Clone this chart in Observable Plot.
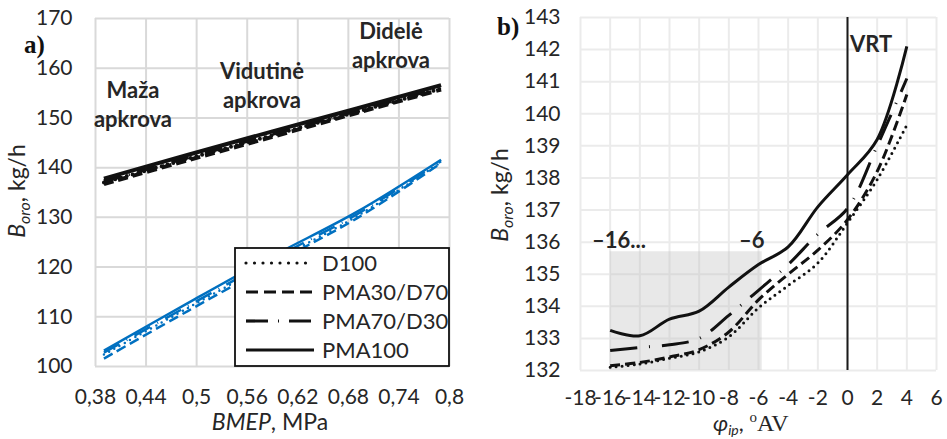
<!DOCTYPE html>
<html><head><meta charset="utf-8">
<script src="https://cdn.jsdelivr.net/npm/d3@7"></script>
<script src="https://cdn.jsdelivr.net/npm/@observablehq/plot@0.6"></script>
<style>
body{margin:0;background:#fff;}
#wrap{display:flex;width:947px;height:439px;overflow:hidden;}
</style></head><body><div id="wrap"></div>
<script>
// ---------- data ----------
const seriesNames = ["D100", "PMA30/D70", "PMA70/D30", "PMA100"];

// panel a) : BMEP, MPa
const bmep = [0.39, 0.49, 0.59, 0.69, 0.79];
const upperD100     = [137.0, 141.8, 146.5, 151.2, 155.9];
const upperPMA30D70 = [136.7, 141.5, 146.2, 151.0, 155.7];
const upperPMA70D30 = [137.3, 142.1, 146.8, 151.5, 156.2];
const upperPMA100   = [137.8, 142.6, 147.3, 151.9, 156.6];
const lowerD100     = [102.4, 111.8, 121.1, 130.2, 141.1];
const lowerPMA30D70 = [101.6, 111.2, 120.6, 129.8, 140.9];
const lowerPMA70D30 = [102.8, 112.2, 121.6, 130.6, 141.3];
const lowerPMA100   = [103.2, 112.8, 122.2, 131.1, 141.6];
const bmepTicks = [0.38, 0.44, 0.5, 0.56, 0.62, 0.68, 0.74, 0.8];
const borTicksA = [100, 110, 120, 130, 140, 150, 160, 170];
const loadLabels = [["Maža", "apkrova"], ["Vidutinė", "apkrova"], ["Didelė", "apkrova"]];

// panel b) : injection timing, °AV
const phi = [-16, -14, -12, -10, -8, -6, -4, -2, 0, 2, 4];
const phiD100     = [132.1, 132.2, 132.38, 132.58, 133.05, 133.95, 134.65, 135.35, 136.6, 137.95, 139.65];
const phiPMA30D70 = [132.15, 132.25, 132.42, 132.65, 133.2, 134.2, 135.0, 135.75, 136.7, 138.2, 140.6];
const phiPMA70D30 = [132.62, 132.72, 132.8, 133.0, 133.72, 134.5, 135.3, 136.25, 137.05, 139.0, 141.1];
const phiPMA100   = [133.25, 133.08, 133.6, 133.85, 134.6, 135.3, 135.85, 137.1, 138.1, 139.2, 142.1];
const phiTicks = [-18, -16, -14, -12, -10, -8, -6, -4, -2, 0, 2, 4, 6];
const borTicksB = [132, 133, 134, 135, 136, 137, 138, 139, 140, 141, 142, 143];
const shadeRange = {x1: -16, x2: -5.75, y1: 132, y2: 135.7};
const rangeLabels = ["\u201316...", "\u20136"];
const vrtAt = 0;

// ---------- styles ----------
const dashB = {"D100": "0 6", "PMA30/D70": "10 5", "PMA70/D30": "27 12 1 12", "PMA100": null};
const dashA = {"D100": "0 6", "PMA30/D70": "10 5", "PMA70/D30": "18 8 1 8", "PMA100": null};
const legendDash = {"D100": "0 8.5", "PMA30/D70": "12 6", "PMA70/D30": "22 10 1 10", "PMA100": null};
const blue = "#0070C0";
const font = "Lato, 'Open Sans', sans-serif";

const rows = (xs, ys, name) => xs.map((x, i) => ({x, y: ys[i], name}));
const upper = {"D100": upperD100, "PMA30/D70": upperPMA30D70, "PMA70/D30": upperPMA70D30, "PMA100": upperPMA100};
const lower = {"D100": lowerD100, "PMA30/D70": lowerPMA30D70, "PMA70/D30": lowerPMA70D30, "PMA100": lowerPMA100};
const curvesB = {"D100": phiD100, "PMA30/D70": phiPMA30D70, "PMA70/D30": phiPMA70D30, "PMA100": phiPMA100};
const fmtComma = d => String(d).replace(".", ",");

function lineMark(data, name, stroke, dash, width, curve) {
  return Plot.line(data, {x: "x", y: "y", stroke, strokeWidth: width,
    strokeDasharray: dash || undefined,
    strokeLinecap: (dash && dash.startsWith("0 ")) ? "round" : "butt",
    curve});
}

// ---------- panel a ----------
const marksA = [
  Plot.gridX(bmepTicks, {stroke: "#d9d9d9", strokeOpacity: 1, strokeWidth: 2}),
  Plot.gridY(borTicksA, {stroke: "#d9d9d9", strokeOpacity: 1, strokeWidth: 2}),
];
for (const n of seriesNames) marksA.push(lineMark(rows(bmep, lower[n], n), n, blue, dashA[n], 2.5, "catmull-rom"));
for (const n of seriesNames) marksA.push(lineMark(rows(bmep, upper[n], n), n, "#111", dashA[n], 4, "catmull-rom"));
marksA.push(
  Plot.axisX({ticks: bmepTicks, tickSize: 0, tickPadding: 23, tickFormat: fmtComma, label: null}),
  Plot.axisY({ticks: borTicksA, tickSize: 0, tickPadding: 23, label: null})
);
const plotA = Plot.plot({
  width: 470, height: 439,
  marginLeft: 95, marginRight: 21, marginTop: 18, marginBottom: 73,
  x: {domain: [0.38, 0.8]},
  y: {domain: [100, 170]},
  style: {fontFamily: font, fontSize: "21px", color: "#262626", background: "white", overflow: "visible"},
  marks: marksA
});

// ---------- panel b ----------
const marksB = [
  Plot.gridX(phiTicks, {stroke: "#ebebeb", strokeOpacity: 1, strokeWidth: 2}),
  Plot.gridY(borTicksB, {stroke: "#ebebeb", strokeOpacity: 1, strokeWidth: 2}),
  Plot.rect([shadeRange], {x1: "x1", x2: "x2", y1: "y1", y2: "y2", fill: "#bfbfbf", fillOpacity: 0.36}),
  Plot.ruleX([vrtAt], {stroke: "#1a1a1a", strokeWidth: 2}),
];
for (const n of seriesNames) marksB.push(lineMark(rows(phi, curvesB[n], n), n, "#111", dashB[n], 3, "catmull-rom"));
marksB.push(
  Plot.axisX({ticks: phiTicks, tickSize: 0, tickPadding: 20, tickFormat: d => String(d), label: null}),
  Plot.axisY({ticks: borTicksB, tickSize: 0, tickPadding: 20, label: null})
);
const plotB = Plot.plot({
  width: 477, height: 439,
  marginLeft: 110, marginRight: 11, marginTop: 17, marginBottom: 69,
  x: {domain: [-18, 6]},
  y: {domain: [132, 143]},
  style: {fontFamily: font, fontSize: "21px", color: "#262626", background: "white", overflow: "visible"},
  marks: marksB
});

document.getElementById("wrap").append(plotA, plotB);

// ---------- annotations panel a ----------
const sA = d3.select(plotA);
// legend
const lg = sA.append("g");
lg.append("rect").attr("x", 235).attr("y", 248).attr("width", 214).attr("height", 118)
  .attr("fill", "white").attr("stroke", "#111").attr("stroke-width", 1.8);
seriesNames.forEach((n, i) => {
  const y = 263 + i * 29;
  lg.append("line").attr("x1", 246).attr("x2", 314).attr("y1", y).attr("y2", y)
    .attr("stroke", "#111").attr("stroke-width", 3.2)
    .attr("stroke-dasharray", legendDash[n])
    .attr("stroke-linecap", legendDash[n] && legendDash[n].startsWith("0 ") ? "round" : "butt");
  lg.append("text").attr("x", 322).attr("y", y).attr("dy", "0.36em").attr("text-anchor", "start")
    .attr("font-size", 22).attr("fill", "#262626").text(n);
});
// load labels
const loadPos = [[133, 98], [262, 79], [391, 39]];
loadLabels.forEach((ls, i) => {
  ls.forEach((t, j) => {
    sA.append("text").attr("x", loadPos[i][0]).attr("y", loadPos[i][1] + j * 28.5)
      .attr("text-anchor", "middle").attr("font-weight", "bold").attr("font-size", 22)
      .attr("fill", "#262626").text(t);
  });
});
sA.append("text").attr("x", 24).attr("y", 53).attr("text-anchor", "start").attr("font-family", "'Liberation Serif', serif")
  .attr("font-weight", "bold").attr("font-size", 25).attr("fill", "#111").text("a)");
// axis titles
const xtA = sA.append("text").attr("x", 270).attr("y", 430).attr("text-anchor", "middle")
  .attr("font-size", 23).attr("fill", "#262626");
xtA.append("tspan").attr("font-style", "italic").text("BMEP");
xtA.append("tspan").text(", MPa");
function yTitle(sel, x, y) {
  const t = sel.append("text").attr("transform", `translate(${x},${y}) rotate(-90)`)
    .attr("text-anchor", "middle").attr("font-size", 23).attr("fill", "#262626");
  t.append("tspan").attr("font-style", "italic").text("B");
  t.append("tspan").attr("font-style", "italic").attr("font-size", 16).attr("dy", 5).text("oro");
  t.append("tspan").attr("dy", -5).text(", kg/h");
}
yTitle(sA, 25, 191);

// ---------- annotations panel b ----------
const sB = d3.select(plotB);
sB.append("text").attr("x", 27).attr("y", 35).attr("text-anchor", "start").attr("font-family", "'Liberation Serif', serif")
  .attr("font-weight", "bold").attr("font-size", 25).attr("fill", "#111").text("b)");
sB.append("text").attr("x", 122).attr("y", 248).attr("text-anchor", "start").attr("font-weight", "bold").attr("font-size", 22)
  .attr("fill", "#262626").text(rangeLabels[0]);
sB.append("text").attr("x", 269).attr("y", 248).attr("text-anchor", "start").attr("font-weight", "bold").attr("font-size", 22)
  .attr("fill", "#262626").text(rangeLabels[1]);
sB.append("text").attr("x", 380).attr("y", 52).attr("text-anchor", "start").attr("font-weight", "bold").attr("font-size", 22)
  .attr("fill", "#262626").text("VRT");
yTitle(sB, 38, 195);
const xtB = sB.append("text").attr("x", 243).attr("y", 431).attr("text-anchor", "start").attr("font-size", 22).attr("fill", "#262626");
xtB.append("tspan").attr("font-style", "italic").text("φ");
xtB.append("tspan").attr("font-style", "italic").attr("font-size", 14).attr("dy", 4).text("ip");
xtB.append("tspan").attr("dy", -4).text(", ");
xtB.append("tspan").attr("font-family", "'Liberation Serif', serif").attr("font-size", 15).attr("dy", -9).text("o");
xtB.append("tspan").attr("font-family", "'Liberation Serif', serif").attr("font-size", 24).attr("dy", 9).text("AV");
</script></body></html>
